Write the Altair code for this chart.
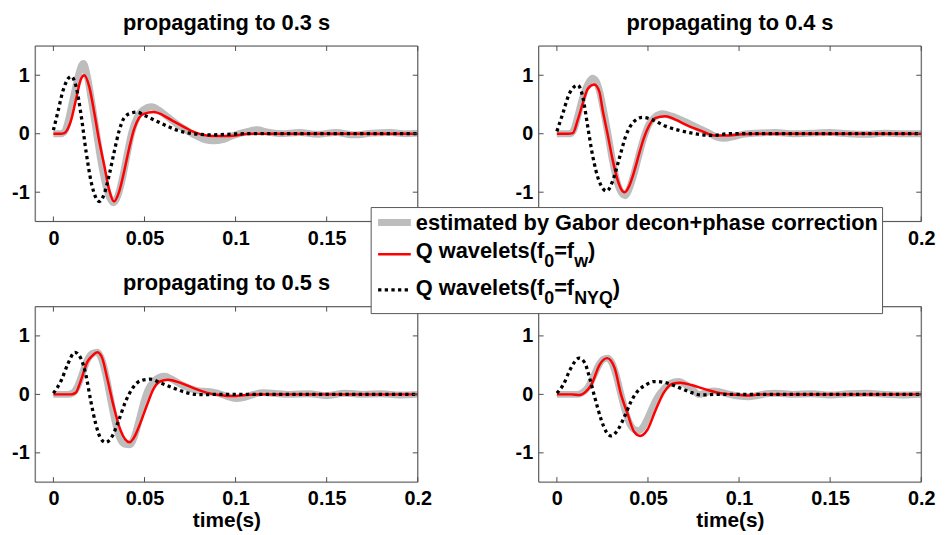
import altair as alt
import pandas as pd

FONT = "Liberation Sans"
FRAME = "#4d4d4d"
GRAY = "#bdbdbd"
RED = "#ff0000"
W, H = 386, 177

X_DOMAIN = [-0.01, 0.2]
Y_DOMAIN = [-1.5, 1.5]
X_TICKS = [0, 0.05, 0.1, 0.15, 0.2]
Y_TICKS = [-1, 0, 1]
TITLES = ["propagating to 0.3 s", "propagating to 0.4 s",
          "propagating to 0.5 s", "propagating to 0.6 s"]
X_TITLE = "time(s)"
LEGEND_ROWS = [
    [("estimated by Gabor decon+phase correction", False)],
    [("Q wavelets(f", False), ("0", True), ("=f", False), ("w", True), (")", False)],
    [("Q wavelets(f", False), ("0", True), ("=f", False), ("NYQ", True), (")", False)],
]

# ---------------- panel 1: propagating to 0.3 s ----------------
GRAY_03_T = [0, 0.004, 0.006, 0.008, 0.0105, 0.013, 0.0155, 0.0165, 0.0185, 0.021, 0.0235,
             0.026, 0.0285, 0.031, 0.033, 0.0355, 0.038, 0.0405, 0.043, 0.046, 0.049, 0.054,
             0.058, 0.063, 0.068, 0.073, 0.078, 0.083, 0.088, 0.093, 0.098, 0.103, 0.108,
             0.112, 0.117, 0.125, 0.135, 0.145, 0.155, 0.165, 0.175, 0.185, 0.193, 0.2]
GRAY_03_V = [0, 0, 0.03, 0.2, 0.55, 0.9, 1.17, 1.2, 1.0, 0.55, 0.05,
             -0.45, -0.85, -1.1, -1.18, -1.05, -0.75, -0.35, 0.02, 0.28, 0.4, 0.46,
             0.4, 0.28, 0.16, 0.06, -0.03, -0.1, -0.12, -0.1, -0.04, 0.01, 0.05,
             0.07, 0.03, 0.0, 0.02, -0.01, 0.02, -0.02, 0.01, 0.02, 0.0, 0.01]
RED_03_T = [0, 0.004, 0.006, 0.0075, 0.0098, 0.0125, 0.0152, 0.017, 0.0197, 0.0225, 0.025,
            0.0279, 0.0306, 0.0333, 0.036, 0.0388, 0.0415, 0.0442, 0.047, 0.0496, 0.055,
            0.06, 0.066, 0.072, 0.077, 0.084, 0.09, 0.095, 0.1, 0.106, 0.12, 0.14, 0.16,
            0.18, 0.2]
RED_03_V = [0, 0, 0.01, 0.06, 0.24, 0.6, 0.94, 1.0, 0.8, 0.35, -0.1,
            -0.54, -0.96, -1.16, -1.0, -0.65, -0.26, 0.07, 0.27, 0.34, 0.37,
            0.32, 0.21, 0.11, 0.03, -0.03, -0.04, -0.04, -0.03, -0.005, 0, 0, 0,
            0, 0]
NYQ_03_T = [0, 0.0025, 0.0053, 0.008, 0.0098, 0.0125, 0.0152, 0.018, 0.0207, 0.0234, 0.0252,
            0.028, 0.0306, 0.0333, 0.036, 0.0388, 0.0424, 0.046, 0.0496, 0.057, 0.0624,
            0.068, 0.073, 0.08, 0.087, 0.095, 0.105, 0.2]
NYQ_03_V = [0.06, 0.38, 0.74, 0.94, 0.98, 0.8, 0.32, -0.32, -0.82, -1.1, -1.16,
            -1.02, -0.71, -0.32, 0.04, 0.27, 0.35, 0.37, 0.32, 0.21, 0.13,
            0.06, 0.02, -0.01, -0.02, -0.01, 0, 0]

# ---------------- panel 2: propagating to 0.4 s ----------------
GRAY_04_T = [0, 0.007, 0.009, 0.0115, 0.0142, 0.017, 0.0195, 0.0215, 0.0235, 0.0255, 0.028,
             0.0305, 0.0333, 0.036, 0.0375, 0.0396, 0.0424, 0.0451, 0.0478, 0.0505, 0.054,
             0.058, 0.063, 0.068, 0.073, 0.078, 0.083, 0.088, 0.092, 0.097, 0.102, 0.11,
             0.12, 0.13, 0.14, 0.15, 0.16, 0.17, 0.18, 0.19, 0.2]
GRAY_04_V = [0, 0, 0.05, 0.3, 0.62, 0.85, 0.95, 0.9, 0.72, 0.42, 0.0,
             -0.45, -0.85, -1.03, -1.06, -0.95, -0.68, -0.36, -0.06, 0.16, 0.29,
             0.34, 0.3, 0.24, 0.17, 0.09, 0.02, -0.06, -0.08, -0.05, -0.01, 0.01,
             0.02, 0.0, 0.01, 0.02, 0.0, -0.01, 0.01, 0.0, 0.0]
RED_04_T = [0, 0.006, 0.0087, 0.0115, 0.0142, 0.017, 0.0205, 0.0233, 0.0251, 0.0278, 0.0305,
            0.0333, 0.036, 0.0373, 0.0396, 0.0424, 0.0451, 0.0478, 0.0505, 0.0542, 0.0596,
            0.0651, 0.0724, 0.0796, 0.0869, 0.0942, 0.1015, 0.11, 0.2]
RED_04_V = [0, 0, 0.01, 0.24, 0.52, 0.77, 0.84, 0.72, 0.41, 0.0, -0.43,
            -0.79, -0.98, -1.0, -0.9, -0.65, -0.35, -0.07, 0.13, 0.27, 0.3,
            0.24, 0.13, 0.045, -0.03, -0.03, -0.01, 0, 0]
NYQ_04_T = [0, 0.0033, 0.0069, 0.0115, 0.0142, 0.0169, 0.0196, 0.0233, 0.0273, 0.0305, 0.0342,
            0.0378, 0.0415, 0.0469, 0.0524, 0.0596, 0.0669, 0.076, 0.085, 0.095, 0.2]
NYQ_04_V = [0.04, 0.35, 0.69, 0.83, 0.63, 0.13, -0.37, -0.82, -0.98, -0.82, -0.43,
            -0.04, 0.18, 0.28, 0.24, 0.13, 0.06, 0.0, -0.03, 0, 0]

# ---------------- panel 3: propagating to 0.5 s ----------------
GRAY_05_T = [0, 0.008, 0.0105, 0.013, 0.0155, 0.0185, 0.0215, 0.024, 0.0265, 0.029, 0.0315,
             0.034, 0.0365, 0.039, 0.042, 0.0445, 0.047, 0.0495, 0.052, 0.055, 0.058,
             0.061, 0.065, 0.07, 0.075, 0.08, 0.085, 0.09, 0.095, 0.1, 0.105, 0.11,
             0.115, 0.12, 0.13, 0.14, 0.15, 0.16, 0.17, 0.18, 0.19, 0.2]
GRAY_05_V = [0, 0, 0.02, 0.12, 0.32, 0.58, 0.7, 0.72, 0.6, 0.3, -0.1,
             -0.48, -0.75, -0.85, -0.86, -0.72, -0.45, -0.15, 0.08, 0.22, 0.29,
             0.31, 0.26, 0.17, 0.1, 0.06, 0.05, 0.02, -0.03, -0.07, -0.05, 0.0,
             0.03, 0.02, 0.0, 0.01, -0.02, 0.02, 0.0, 0.01, -0.01, 0.0]
RED_05_T = [0, 0.0096, 0.0123, 0.015, 0.0187, 0.0214, 0.0241, 0.0268, 0.0295, 0.0332, 0.0368,
            0.0418, 0.044, 0.0476, 0.0513, 0.0549, 0.0585, 0.063, 0.0694, 0.0766, 0.0839,
            0.0911, 0.0984, 0.1056, 0.115, 0.2]
RED_05_V = [0, 0, 0.03, 0.23, 0.56, 0.66, 0.72, 0.62, 0.28, -0.22, -0.61,
            -0.82, -0.75, -0.5, -0.19, 0.09, 0.22, 0.25, 0.2, 0.11, 0.03,
            -0.01, -0.03, -0.01, 0, 0]
NYQ_05_T = [0, 0.0042, 0.0078, 0.0118, 0.015, 0.0178, 0.0205, 0.0232, 0.0259, 0.0286, 0.0322,
            0.0359, 0.0395, 0.0431, 0.0476, 0.0531, 0.0585, 0.0658, 0.073, 0.0803, 0.09, 0.2]
NYQ_05_V = [0.02, 0.23, 0.51, 0.72, 0.62, 0.34, -0.11, -0.5, -0.75, -0.82, -0.72,
            -0.44, -0.13, 0.09, 0.23, 0.26, 0.2, 0.11, 0.03, -0.005, 0, 0]

# ---------------- panel 4: propagating to 0.6 s ----------------
GRAY_06_T = [0, 0.011, 0.014, 0.017, 0.02, 0.023, 0.0255, 0.0278, 0.03, 0.0325, 0.035,
             0.0375, 0.04, 0.0425, 0.045, 0.0475, 0.05, 0.0525, 0.055, 0.0578, 0.061,
             0.064, 0.067, 0.07, 0.074, 0.078, 0.082, 0.086, 0.09, 0.095, 0.1, 0.105,
             0.11, 0.115, 0.12, 0.13, 0.14, 0.15, 0.16, 0.17, 0.18, 0.19, 0.2]
GRAY_06_V = [0, 0, 0.03, 0.12, 0.3, 0.5, 0.6, 0.62, 0.55, 0.33, 0.02,
             -0.28, -0.5, -0.6, -0.62, -0.55, -0.4, -0.22, -0.06, 0.06, 0.16,
             0.21, 0.22, 0.18, 0.1, 0.0, 0.03, 0.06, 0.04, 0.0, -0.03, -0.04,
             -0.02, 0.01, 0.02, 0.0, 0.01, -0.01, 0.01, 0.02, 0.0, -0.01, 0.0]
RED_06_T = [0, 0.008, 0.0126, 0.0153, 0.019, 0.0235, 0.0276, 0.0316, 0.0352, 0.0388, 0.0424,
            0.0457, 0.0496, 0.0542, 0.0587, 0.0632, 0.0677, 0.074, 0.0812, 0.0884, 0.0975,
            0.1047, 0.112, 0.2]
RED_06_V = [0, 0, -0.01, 0.03, 0.17, 0.51, 0.62, 0.46, 0.0, -0.33, -0.64,
            -0.71, -0.61, -0.27, 0.03, 0.18, 0.2, 0.16, 0.09, 0.03, -0.005,
            -0.02, 0, 0]
NYQ_06_T = [0, 0.0036, 0.0072, 0.0123, 0.0153, 0.018, 0.0208, 0.0244, 0.0271, 0.0298, 0.0334,
            0.037, 0.0406, 0.0442, 0.0487, 0.0532, 0.0596, 0.0668, 0.074, 0.0794, 0.087, 0.2]
NYQ_06_V = [0.02, 0.17, 0.42, 0.62, 0.54, 0.28, -0.05, -0.44, -0.64, -0.71, -0.61,
            -0.39, -0.13, 0.05, 0.16, 0.22, 0.2, 0.12, 0.03, -0.01, 0, 0]

PANELS = [
    (GRAY_03_T, GRAY_03_V, RED_03_T, RED_03_V, NYQ_03_T, NYQ_03_V),
    (GRAY_04_T, GRAY_04_V, RED_04_T, RED_04_V, NYQ_04_T, NYQ_04_V),
    (GRAY_05_T, GRAY_05_V, RED_05_T, RED_05_V, NYQ_05_T, NYQ_05_V),
    (GRAY_06_T, GRAY_06_V, RED_06_T, RED_06_V, NYQ_06_T, NYQ_06_V),
]

# ---------------- styling ----------------
TITLE_SIZE = 22
LABEL_SIZE = 20
LEG_SIZE = 22
SUB_SIZE = 18
SUB_DY = 9
TICK_LEN = 5
TITLE_Y = -16.5
GRAY_STYLE = dict(color=GRAY, strokeWidth=7, strokeCap="butt", strokeJoin="round")
RED_STYLE = dict(color=RED, strokeWidth=2.5, strokeJoin="round")
NYQ_STYLE = dict(color="black", strokeWidth=3.3, strokeDash=[3.3, 3.4], strokeCap="butt")

# Arial/Liberation Sans Bold advance widths (em)
CHAR_W = {"Q": 0.778, " ": 0.278, "w": 0.778, "a": 0.556, "v": 0.556, "e": 0.556,
          "l": 0.278, "t": 0.333, "s": 0.556, "(": 0.333, "f": 0.333, "=": 0.584,
          ")": 0.333, "0": 0.556, "N": 0.722, "Y": 0.667}


def text_w(s, size):
    return sum(CHAR_W.get(c, 0.556) for c in s) * size


def one_row():
    return pd.DataFrame({"k": [0]})


def panel(idx, bottom, with_legend):
    gt, gv, rt, rv, nt, nv = PANELS[idx]
    axis_kw = dict(ticks=False, tickSize=0, domain=False, grid=False,
                   labelFont=FONT, labelFontSize=LABEL_SIZE, labelFontWeight="bold",
                   labelColor="black", labelOverlap=False,
                   labelExpr="'' + datum.value")
    if bottom:
        x_axis = alt.Axis(values=X_TICKS, labelPadding=7, labelFlush=False,
                          title=X_TITLE, titleFont=FONT, titleFontSize=21,
                          titleFontWeight="bold", titleColor="black", titlePadding=1,
                          **axis_kw)
    else:
        x_axis = alt.Axis(values=X_TICKS, labelPadding=7, labelFlush=False,
                          title=None, **axis_kw)
    y_axis = alt.Axis(values=Y_TICKS, labelPadding=6, title=None, **axis_kw)
    x_enc = alt.X("t:Q", scale=alt.Scale(domain=X_DOMAIN, nice=False, zero=False), axis=x_axis)
    y_enc = alt.Y("v:Q", scale=alt.Scale(domain=Y_DOMAIN, nice=False, zero=False), axis=y_axis)

    def line(ts, vs, style):
        return alt.Chart(pd.DataFrame({"t": ts, "v": vs})).mark_line(
            interpolate="monotone", **style).encode(x=x_enc, y=y_enc)

    xt = pd.DataFrame({"t": X_TICKS})
    yt = pd.DataFrame({"v": Y_TICKS})
    tk = dict(color=FRAME, strokeWidth=1)
    layers = [
        line(gt, gv, GRAY_STYLE),
        line(rt, rv, RED_STYLE),
        line(nt, nv, NYQ_STYLE),
        alt.Chart(xt).mark_rule(**tk).encode(x=x_enc, y=alt.value(H), y2=alt.value(H - TICK_LEN)),
        alt.Chart(xt).mark_rule(**tk).encode(x=x_enc, y=alt.value(0), y2=alt.value(TICK_LEN)),
        alt.Chart(yt).mark_rule(**tk).encode(y=y_enc, x=alt.value(0), x2=alt.value(TICK_LEN)),
        alt.Chart(yt).mark_rule(**tk).encode(y=y_enc, x=alt.value(W - TICK_LEN), x2=alt.value(W)),
        alt.Chart(one_row()).mark_rect(fill="transparent", stroke=FRAME, strokeWidth=1).encode(
            x=alt.value(0), x2=alt.value(W), y=alt.value(0), y2=alt.value(H)),
        # panel title (as text, so that the legend box can cover the last one)
        alt.Chart(one_row()).mark_text(
            font=FONT, fontSize=TITLE_SIZE, fontWeight="bold", color="black",
            align="center", baseline="alphabetic").encode(
            x=alt.value(W / 2), y=alt.value(TITLE_Y), text=alt.value(TITLES[idx])),
    ]
    if with_legend:
        # legend (relative to this panel's plot origin)
        bx1, bx2, by1, by2 = -169, 347, -100, 7
        layers.append(alt.Chart(one_row()).mark_rect(
            fill="white", stroke="#555555", strokeWidth=1).encode(
            x=alt.value(bx1), x2=alt.value(bx2), y=alt.value(by1), y2=alt.value(by2)))
        sym_x1, sym_x2 = -162, -129
        sym_y = [-85, -53, -17]
        styles = [GRAY_STYLE, RED_STYLE, NYQ_STYLE]
        for sy, st in zip(sym_y, styles):
            s = dict(st)
            s.pop("strokeJoin", None)
            x2 = sym_x2 if st is not NYQ_STYLE else sym_x2 - 2
            layers.append(alt.Chart(one_row()).mark_rule(**s).encode(
                x=alt.value(sym_x1), x2=alt.value(x2), y=alt.value(sy)))
        text_x0 = -124
        base_y = [-77.5, -49, -12]
        for row, by in zip(LEGEND_ROWS, base_y):
            cx = text_x0
            for piece, is_sub in row:
                size = SUB_SIZE if is_sub else LEG_SIZE
                yy = by + (SUB_DY if is_sub else 0)
                layers.append(alt.Chart(one_row()).mark_text(
                    font=FONT, fontSize=size, fontWeight="bold", color="black",
                    align="left", baseline="alphabetic").encode(
                    x=alt.value(cx), y=alt.value(yy), text=alt.value(piece)))
                cx += text_w(piece, size)
    return alt.layer(*layers).properties(width=W, height=H)


p1 = panel(0, bottom=False, with_legend=False)
p2 = panel(1, bottom=False, with_legend=False)
p3 = panel(2, bottom=True, with_legend=False)
p4 = panel(3, bottom=True, with_legend=True)

chart = alt.concat(
    p1, p2, p3, p4, columns=2,
    spacing={"row": 86, "column": 122}, bounds="flush",
).properties(
    padding={"left": 10.5, "top": 9, "right": 10, "bottom": 5},
    background="white",
).configure_view(strokeWidth=0).configure(font=FONT)

chart.save("out.html", embed_options={"renderer": "svg", "actions": False})
